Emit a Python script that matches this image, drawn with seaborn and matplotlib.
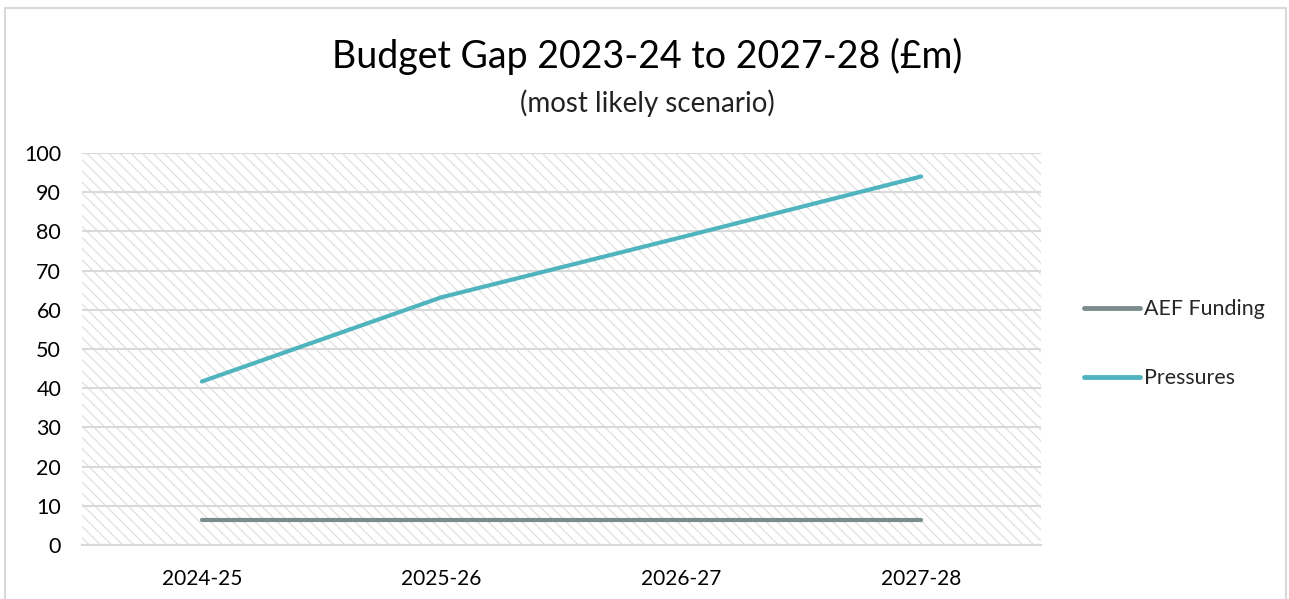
import matplotlib
matplotlib.use("Agg")
import matplotlib.pyplot as plt
import seaborn as sns
import pandas as pd

# Financial years on the x axis
years = ["2024-25", "2025-26", "2026-27", "2027-28"]
# Series values (£m)
aef_funding = [6.3, 6.3, 6.3, 6.3]
pressures = [41.7, 63.2, 78.5, 94.0]
series_names = ["AEF Funding", "Pressures"]
y_ticks = [0, 10, 20, 30, 40, 50, 60, 70, 80, 90, 100]

df = pd.DataFrame({
    "Year": years * 2,
    "Value": aef_funding + pressures,
    "Series": [series_names[0]] * len(years) + [series_names[1]] * len(years),
})

sns.set_theme(style="white")
plt.rcParams["font.family"] = ["Lato", "DejaVu Sans"]
plt.rcParams["hatch.linewidth"] = 0.9

fig = plt.figure(figsize=(12.89, 5.99), dpi=100)
ax = fig.add_axes([0.0636, 0.0902, 0.7440, 0.6544])

# Hatched plot background
ax.set_facecolor("white")
bg = plt.Rectangle((0, 0), 1, 1, transform=ax.transAxes, facecolor="white",
                   edgecolor="#e0e0e0", linewidth=0, hatch="\\\\\\", zorder=0)
ax.add_patch(bg)

palette = {"AEF Funding": "#7a8c8c", "Pressures": "#50b4be"}
sns.lineplot(data=df, x="Year", y="Value", hue="Series", palette=palette,
             linewidth=3, ax=ax, sort=False, zorder=3,
             solid_capstyle="round")

ax.set_xlim(-0.5, len(years) - 0.5)
ax.set_ylim(0, 100)
ax.set_yticks(y_ticks)
ax.yaxis.grid(True, color="#d9d9d9", linewidth=1.5, zorder=1)
ax.xaxis.grid(False)
ax.set_axisbelow(True)
for side in ["top", "right", "left"]:
    ax.spines[side].set_visible(False)
ax.spines["bottom"].set_color("#d9d9d9")
ax.spines["bottom"].set_linewidth(1.5)
ax.tick_params(axis="x", length=0, labelsize=15, colors="black", pad=17)
ax.tick_params(axis="y", length=0, labelsize=15.5, colors="black", pad=15)
ax.set_xlabel("")
ax.set_ylabel("")

leg = ax.legend(loc="center left", bbox_to_anchor=(1.025, 0.513), frameon=False,
                fontsize=15.4, handlelength=2.6, handletextpad=0.2,
                labelspacing=2.3)
for line in leg.get_lines():
    line.set_linewidth(3.5)
    line.set_solid_capstyle("round")

fig.text(0.502, 0.905, "Budget Gap 2023-24 to 2027-28 (£m)", ha="center",
         va="center", fontsize=27, color="black")
fig.text(0.502, 0.828, "(most likely scenario)", ha="center", va="center",
         fontsize=20, color="#222222")

# Chart outer frame
frame = plt.Rectangle((5 / 1289, -0.05), 1281 / 1289, 1.05 - 8 / 599,
                      transform=fig.transFigure, facecolor="none",
                      edgecolor="#d9d9d9", linewidth=1.5)
fig.add_artist(frame)

fig.savefig("out.png", dpi=100)
